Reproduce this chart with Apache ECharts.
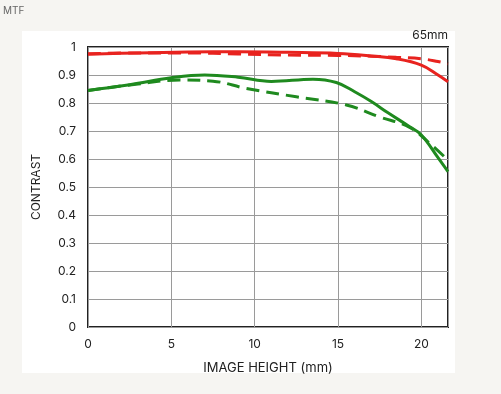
<!DOCTYPE html>
<html><head><meta charset="utf-8">
<script src="https://cdn.jsdelivr.net/npm/echarts@6/dist/echarts.min.js"></script>
<style>html,body{margin:0;padding:0;background:#f6f5f2;}#c{width:501px;height:394px;}</style>
</head><body><div id="c"></div>
<script>
const xTicks = [0, 5, 10, 15, 20];
const yTicks = [0, 0.1, 0.2, 0.3, 0.4, 0.5, 0.6, 0.7, 0.8, 0.9, 1];
const redSolidX = [0, 3, 6, 9, 12, 15, 17, 18.5, 20, 21, 21.6];
const redSolidY = [0.974, 0.979, 0.982, 0.983, 0.981, 0.977, 0.968, 0.958, 0.935, 0.9, 0.876];
const redDashX = [0, 3, 6, 9, 12, 15, 17, 18.5, 20, 21, 21.6];
const redDashY = [0.976, 0.979, 0.979, 0.975, 0.971, 0.97, 0.967, 0.963, 0.958, 0.948, 0.94];
const greenSolidX = [0, 2.5, 5, 7, 9, 11, 13.5, 14.9, 16, 17, 18, 19.3, 20, 21, 21.6];
const greenSolidY = [0.845, 0.865, 0.89, 0.9, 0.892, 0.877, 0.885, 0.873, 0.84, 0.805, 0.765, 0.715, 0.686, 0.605, 0.555];
const greenDashX = [0, 3, 5.5, 7.5, 9.5, 12.5, 15.5, 17.5, 19.3, 20.5, 21.6];
const greenDashY = [0.845, 0.868, 0.882, 0.878, 0.852, 0.822, 0.793, 0.75, 0.713, 0.656, 0.596];

const zip = (xs, ys) => xs.map((x, i) => [x, ys[i]]);
const RED = '#e8231f', GREEN = '#1f8a1f';
function line(xs, ys, color, dashed) {
  return { type: 'line', data: zip(xs, ys), smooth: 0.4, showSymbol: false, symbol: 'none',
    lineStyle: { color: color, width: 3, type: dashed ? [13, 7] : 'solid' }, z: dashed ? 3 : 4 };
}
const chart = echarts.init(document.getElementById('c'));
chart.setOption({
  backgroundColor: '#f6f5f2',
  animation: false,
  textStyle: { fontFamily: 'Inter, "Noto Sans", sans-serif' },
  graphic: [
    { type: 'rect', shape: { x: 22, y: 31, width: 433, height: 342 }, style: { fill: '#ffffff' }, z: -10 },
    { type: 'text', left: 3, top: 6, style: { text: 'MTF', fill: '#666', fontSize: 10, fontFamily: 'Inter, sans-serif' } },
    { type: 'text', right: 53, top: 29, style: { text: '65mm', fill: '#222', fontSize: 12, fontFamily: 'Inter, sans-serif', textAlign: 'right' } }
  ],
  grid: { left: 88, right: 53, top: 47, bottom: 67, show: true, borderColor: '#222', borderWidth: 2, backgroundColor: 'transparent' },
  xAxis: {
    type: 'value', min: 0, max: 21.6, interval: 5,
    name: 'IMAGE HEIGHT (mm)', nameLocation: 'middle', nameGap: 35,
    nameTextStyle: { color: '#222', fontSize: 13 },
    axisLine: { show: false }, axisTick: { show: false },
    axisLabel: { color: '#222', fontSize: 12, margin: 11, showMaxLabel: false,
      formatter: v => xTicks.includes(v) ? String(v) : '' },
    splitLine: { show: true, lineStyle: { color: '#9a9a9a', width: 1 } }
  },
  yAxis: {
    type: 'value', min: 0, max: 1, interval: 0.1,
    name: 'CONTRAST', nameLocation: 'middle', nameGap: 46, nameRotate: 90,
    nameTextStyle: { color: '#222', fontSize: 12 },
    axisLine: { show: false }, axisTick: { show: false },
    axisLabel: { color: '#222', fontSize: 12, margin: 12,
      formatter: v => { const t = yTicks.find(k => Math.abs(k - v) < 1e-6); return t === undefined ? '' : String(t); } },
    splitLine: { show: true, lineStyle: { color: '#9a9a9a', width: 1 } }
  },
  series: [
    line(greenDashX, greenDashY, GREEN, true),
    line(greenSolidX, greenSolidY, GREEN, false),
    line(redDashX, redDashY, RED, true),
    line(redSolidX, redSolidY, RED, false)
  ]
});
</script></body></html>
